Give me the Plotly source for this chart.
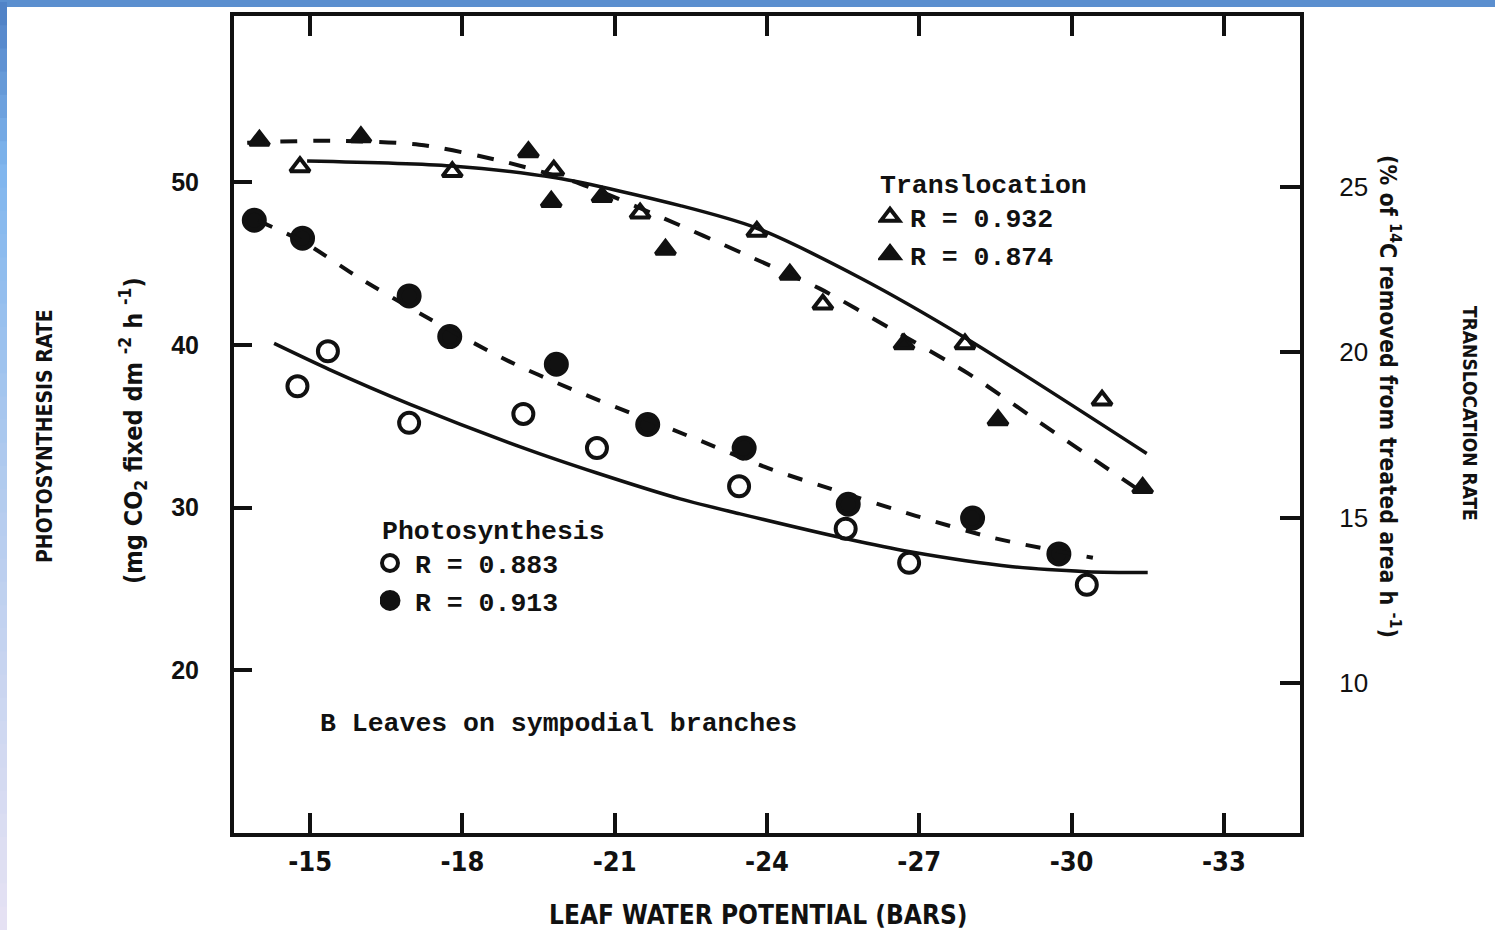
import plotly.graph_objects as go

# ---- data: leaf water potential (bars) vs. rates ----
# Translocation rate (% of 14C removed from treated area per h), right axis
tri_open_x = [-14.8, -17.8, -19.8, -21.5, -23.8, -25.1, -27.9, -30.6]
tri_open_y = [25.6, 25.45, 25.5, 24.2, 23.65, 21.45, 20.25, 18.55]
tri_fill_x = [-14.0, -16.0, -19.3, -19.75, -20.75, -22.0, -24.45, -26.7, -28.55, -31.4]
tri_fill_y = [26.4, 26.5, 26.05, 24.55, 24.7, 23.1, 22.35, 20.25, 17.95, 15.9]

# Photosynthesis rate (mg CO2 fixed per dm2 per h), left axis
circ_open_x = [-14.75, -15.35, -16.95, -19.2, -20.65, -23.45, -25.55, -26.8, -30.3]
circ_open_y = [37.45, 39.6, 35.2, 35.75, 33.65, 31.3, 28.7, 26.6, 25.25]
circ_fill_x = [-13.9, -14.85, -16.95, -17.75, -19.85, -21.65, -23.55, -25.6, -28.05, -29.75]
circ_fill_y = [47.65, 46.55, 43.0, 40.5, 38.8, 35.1, 33.65, 30.2, 29.35, 27.15]

# fitted regression curves
fit_tri_open_x = [-14.94, -17.78, -19.84, -22.29, -23.78, -25.83, -27.90, -31.48]
fit_tri_open_y = [25.78, 25.63, 25.27, 24.43, 23.76, 22.25, 20.44, 16.94]
fit_tri_fill_x = [-13.76, -15.39, -17.15, -18.84, -20.32, -21.99, -23.53, -25.04, -26.44,
                  -27.96, -29.40, -31.31]
fit_tri_fill_y = [26.33, 26.39, 26.27, 25.75, 25.09, 24.03, 22.98, 21.92, 20.71,
                  19.36, 17.85, 15.85]
fit_circ_fill_x = [-13.98, -14.86, -15.93, -17.34, -18.92, -20.16, -21.38, -22.56, -24.02,
                   -25.26, -26.93, -28.45, -30.42]
fit_circ_fill_y = [47.61, 46.33, 44.18, 41.61, 38.98, 37.26, 35.73, 34.26, 32.42,
                   31.14, 29.49, 28.14, 26.91]
fit_circ_open_x = [-14.29, -15.37, -16.97, -19.21, -20.65, -22.29, -23.47, -25.56, -26.82,
                   -28.84, -30.30, -31.50]
fit_circ_open_y = [40.08, 38.49, 36.34, 33.65, 32.12, 30.53, 29.61, 28.08, 27.28,
                   26.36, 26.06, 26.00]

x_ticks = [-15, -18, -21, -24, -27, -30, -33]
x_tick_text = ["-15", "-18", "-21", "-24", "-27", "-30", "-33"]
y_ticks = [20, 30, 40, 50]
y2_ticks = [10, 15, 20, 25]

# ---- styling ----
MONO = "Liberation Mono, DejaVu Sans Mono, monospace"
NARROW = "Liberation Sans Narrow, DejaVu Sans Condensed, Liberation Sans, sans-serif"
SANS = "Liberation Sans, Arial, sans-serif"
INK = "#111111"

W, H = 1495, 930
L, R, T, B = 234, 1300, 14, 833


def px(xp):
    return (xp - L) / (R - L)


def py(yp):
    return (B - yp) / (B - T)


fig = go.Figure()

# measured points (also the legend keys)
fig.add_trace(go.Scatter(
    x=tri_open_x, y=tri_open_y, yaxis="y2", mode="markers", name="R = 0.932",
    legend="legend", cliponaxis=False,
    marker=dict(symbol="triangle-up-open", size=17, color=INK, line=dict(width=4, color=INK))))
fig.add_trace(go.Scatter(
    x=tri_fill_x, y=tri_fill_y, yaxis="y2", mode="markers", name="R = 0.874",
    legend="legend", cliponaxis=False,
    marker=dict(symbol="triangle-up", size=17, color=INK, line=dict(width=4, color=INK))))
fig.add_trace(go.Scatter(
    x=circ_open_x, y=circ_open_y, mode="markers", name="R = 0.883",
    legend="legend2", cliponaxis=False,
    marker=dict(symbol="circle-open", size=20, color=INK, line=dict(width=4, color=INK))))
fig.add_trace(go.Scatter(
    x=circ_fill_x, y=circ_fill_y, mode="markers", name="R = 0.913",
    legend="legend2", cliponaxis=False,
    marker=dict(symbol="circle", size=20, color=INK, line=dict(width=5, color=INK))))

# regression curves
fig.add_trace(go.Scatter(x=fit_tri_open_x, y=fit_tri_open_y, yaxis="y2", mode="lines",
                         showlegend=False,
                         line=dict(color=INK, width=3.5, shape="spline", smoothing=0.8)))
fig.add_trace(go.Scatter(x=fit_tri_fill_x, y=fit_tri_fill_y, yaxis="y2", mode="lines",
                         showlegend=False,
                         line=dict(color=INK, width=4, dash="17px,16px", shape="spline",
                                   smoothing=0.8)))
fig.add_trace(go.Scatter(x=fit_circ_fill_x, y=fit_circ_fill_y, mode="lines",
                         showlegend=False,
                         line=dict(color=INK, width=4, dash="15px,16px", shape="spline",
                                   smoothing=0.8)))
fig.add_trace(go.Scatter(x=fit_circ_open_x, y=fit_circ_open_y, mode="lines",
                         showlegend=False,
                         line=dict(color=INK, width=3.5, shape="spline", smoothing=0.8)))

# decorative frame bands of the slide
shapes = [dict(type="rect", xref="paper", yref="paper", layer="below",
               x0=px(0), x1=px(W), y0=py(5), y1=py(-2),
               fillcolor="#5b8fcf", line=dict(width=0))]
stops = [(0.0, (77, 127, 196)), (0.18, (128, 182, 238)), (0.5, (176, 202, 238)),
         (1.0, (230, 226, 243))]


def band_color(t):
    for (t0, c0), (t1, c1) in zip(stops[:-1], stops[1:]):
        if t <= t1:
            f = (t - t0) / (t1 - t0)
            c = [round(a + (b - a) * f) for a, b in zip(c0, c1)]
            return "rgb({},{},{})".format(*c)
    return "rgb({},{},{})".format(*stops[-1][1])


n_bands = 40
for i in range(n_bands):
    y0p = H * i / n_bands
    y1p = H * (i + 1) / n_bands
    shapes.append(dict(type="rect", xref="paper", yref="paper", layer="below",
                       x0=px(0), x1=px(7), y0=py(y1p + 1), y1=py(y0p),
                       fillcolor=band_color((i + 0.5) / n_bands), line=dict(width=0)))

annotations = [
    dict(text="B Leaves on sympodial branches", x=px(318), y=py(724), xanchor="left",
         yanchor="middle", font=dict(family=MONO, size=26.5, color=INK, weight="bold")),
    dict(text="LEAF WATER POTENTIAL (BARS)", x=px(758), y=py(915), xanchor="center",
         yanchor="middle", font=dict(family=NARROW, size=26, color=INK, weight="bold")),
    dict(text="PHOTOSYNTHESIS RATE", x=px(45), y=py(435), textangle=-90, xanchor="center",
         yanchor="middle", font=dict(family=NARROW, size=21, color=INK, weight="bold")),
    dict(text="(mg CO<sub>2</sub> fixed dm <sup>-2</sup> h <sup>-1</sup>)", x=px(133), y=py(430),
         textangle=-90, xanchor="center", yanchor="middle",
         font=dict(family=NARROW, size=25, color=INK, weight="bold")),
    dict(text="(% of <sup>14</sup>C removed from treated area h <sup>-1</sup>)", x=px(1390),
         y=py(395), textangle=90, xanchor="center", yanchor="middle",
         font=dict(family=NARROW, size=23, color=INK, weight="bold")),
    dict(text="TRANSLOCATION RATE", x=px(1470), y=py(412), textangle=90, xanchor="center",
         yanchor="middle", font=dict(family=NARROW, size=19, color=INK, weight="bold")),
]
for a in annotations:
    a.update(xref="paper", yref="paper", showarrow=False)

legend_font = dict(family=MONO, size=26.5, color=INK, weight="bold")

fig.update_layout(
    width=W, height=H,
    margin=dict(l=L, r=W - R, t=T, b=H - B),
    paper_bgcolor="white", plot_bgcolor="white",
    shapes=shapes, annotations=annotations,
    legend=dict(title=dict(text="Translocation", font=legend_font), font=legend_font,
                x=px(878), y=py(157), xanchor="left", yanchor="top", indentation=-8,
                bgcolor="rgba(0,0,0,0)", itemsizing="trace", itemwidth=30, tracegroupgap=0),
    legend2=dict(title=dict(text="Photosynthesis", font=legend_font), font=legend_font,
                 x=px(380), y=py(504), xanchor="left", yanchor="top", indentation=-15,
                 bgcolor="rgba(0,0,0,0)", itemsizing="trace", itemwidth=40, tracegroupgap=0),
    xaxis=dict(range=[-13.5, -34.5], tickvals=x_ticks, ticktext=x_tick_text,
               showline=True, linewidth=4, linecolor=INK, mirror="ticks",
               ticks="inside", ticklen=20, tickwidth=4, tickcolor=INK,
               showgrid=False, zeroline=False, ticklabelstandoff=2,
               tickfont=dict(family=NARROW, size=27, color=INK, weight="bold")),
    yaxis=dict(range=[10.0, 60.2], tickvals=y_ticks, showline=True, linewidth=4,
               linecolor=INK, ticks="inside", ticklen=18, tickwidth=4, tickcolor=INK,
               showgrid=False, zeroline=False, ticklabelstandoff=26,
               tickfont=dict(family=SANS, size=25, color=INK, weight="bold")),
    yaxis2=dict(range=[5.47, 30.16], tickvals=y2_ticks, overlaying="y", side="right",
                showline=True, linewidth=4, linecolor=INK, ticks="inside", ticklen=20,
                tickwidth=4, tickcolor=INK, showgrid=False, zeroline=False,
                ticklabelstandoff=30,
                tickfont=dict(family=SANS, size=26, color=INK)),
)

fig.write_html("out.html")
